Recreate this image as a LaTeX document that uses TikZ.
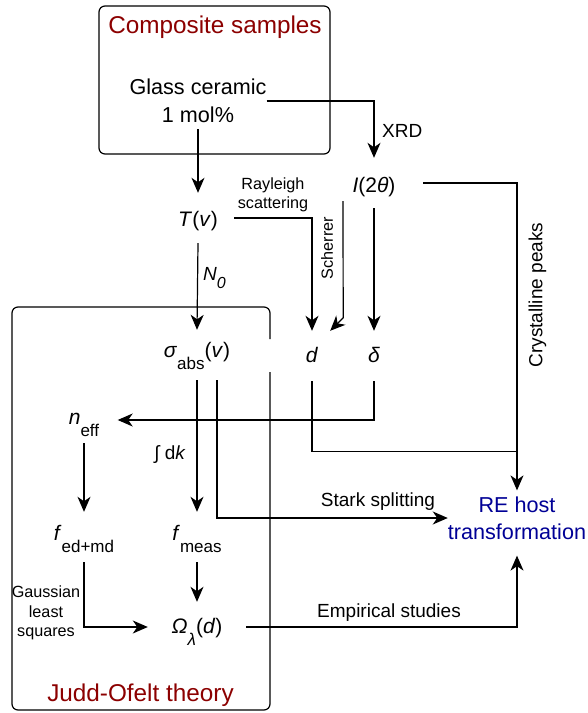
\documentclass[tikz,border=0pt]{standalone}
\usepackage{fontspec}
\setmainfont{Liberation Sans}
\usetikzlibrary{arrows.meta,calc}
\definecolor{dred}{RGB}{140,0,0}
\definecolor{dblue}{RGB}{0,0,150}
\newcommand\fT{\fontsize{24.3}{28}\selectfont}
\newcommand\fM{\fontsize{21.6}{28}\selectfont}
\newcommand\fR{\fontsize{21.6}{27}\selectfont}
\newcommand\fL{\fontsize{19}{23}\selectfont}
\newcommand\fS{\fontsize{16.2}{19.5}\selectfont}
\newcommand\mfont{\fontsize{21}{24}\selectfont}
\newcommand\sbx[1]{\raisebox{-12pt}[0pt][0pt]{\fontsize{17}{17}\selectfont #1}}
\tikzset{
  mnode/.style={inner sep=0pt, font=\mfont},
  lbl/.style={inner sep=0pt},
  ln/.style={line width=1.2pt},
  arr/.style={ln, -{Stealth[length=15pt,width=13pt,inset=4.5pt]}},
  box/.style={draw, line width=1.2pt, rounded corners=6pt, inner sep=0pt},
}
\begin{document}
\begin{tikzpicture}[x=1pt,y=-1pt]
\fill[white] (0,0) rectangle (588,713);
\useasboundingbox (0,0) rectangle (588,713);

% composite samples box
\node[box, minimum width=231pt, minimum height=148pt] (cs) at (214.5,80) {};
\node[anchor=base, font=\fT, text=dred, lbl] (cst) at (215,33) {Composite samples};
\node[align=center, font=\fM, lbl] (gc) at (198,101) {Glass ceramic\\1 mol\%};

% Judd-Ofelt box (with gap on right edge)
\draw[ln, rounded corners=6pt] (270,339) -- (270,307) -- (12,307) -- (12,710) -- (270,710) -- (270,372);
\node[anchor=base, font=\fT, text=dred, lbl] (jot) at (140.5,701) {Judd-Ofelt theory};

% quantities
\node[mnode, minimum width=72pt, minimum height=50pt, text height=18pt, text depth=2pt] (tv) at (198,218) {\textit{T}(\textit{v})};
\node[mnode, minimum width=98pt, minimum height=50pt, text height=20pt, text depth=2pt] (i2t) at (374,183) {\textit{I}(2\textit{θ})};
\node[mnode, minimum width=36pt, minimum height=50pt, text height=16pt, text depth=4pt] (d) at (312,356) {\textit{d}};
\node[mnode, minimum height=50pt, text height=16pt, text depth=4pt] (delta) at (374,356) {\textit{δ}};
\node[mnode, minimum height=50pt, text height=14pt, text depth=10pt] (sig) at (197,355) {\textit{σ}\sbx{abs}(\textit{v})};
\node[mnode, minimum width=67pt, minimum height=46pt, text height=14pt, text depth=6pt] (neff) at (84,420) {\textit{n}\sbx{eff}};
\node[mnode, minimum height=50pt, text height=14pt, text depth=8pt] (fed) at (84,537) {\textit{f}\sbx{ed+md}};
\node[mnode, minimum height=50pt, text height=14pt, text depth=8pt] (fmeas) at (197,537) {\textit{f}\sbx{meas}};
\node[mnode, minimum width=98pt, minimum height=50pt, text height=16pt, text depth=4pt] (om) at (197,627) {\textit{Ω}\sbx{\textit{λ}}(\textit{d})};
\node[align=center, font=\fR, text=dblue, lbl] (re) at (517,518) {RE host\\transformation};

% labels
\node[anchor=base west, font=\fL, lbl] (xrd) at (382,137) {XRD};
\node[align=center, font=\fS, lbl] (ray) at (273,195) {Rayleigh\\scattering};
\node[rotate=90, font=\fS, lbl] (sch) at (327,248) {Scherrer};
\node[rotate=90, font=\fL, lbl] (cry) at (537.5,295) {Crystalline peaks};
\node[anchor=base west, font=\fL, lbl] (n0) at (203,280) {\textit{N}\raisebox{-8pt}[0pt][0pt]{\fontsize{16}{16}\selectfont\textit{0}}};
\node[font=\fL, lbl] (intk) at (170,455) {∫ d\textit{k}};
\node[anchor=base, font=\fL, lbl] (stark) at (378,506) {Stark splitting};
\node[anchor=base, font=\fL, lbl] (emp) at (389,617) {Empirical studies};
\node[align=center, font=\fS, lbl] (gls) at (46,613) {Gaussian\\least\\squares};

% connectors
\draw[arr] ([yshift=-6pt]gc.south) -- (tv.north);
\draw[arr] (gc.east) -| (i2t.north);
\draw[arr] (tv.south) -- (sig.north);
\draw[arr] (tv.east) -| (d.north);
\draw[arr] ([xshift=-31pt,yshift=7pt]i2t.south) -- ([xshift=13pt,yshift=13pt]d.north east) -- (d.north east);
\draw[arr] (i2t.south) -- (delta.north);
\draw[arr] (i2t.east) -| ([yshift=6pt]re.north);
\draw[ln] (d.south) |- ($(re.north)+(0,-45)$);
\draw[arr] (delta.south) |- (neff.east);
\draw[arr] (sig.south) -- (fmeas.north);
\draw[arr] ([xshift=20pt]sig.south) |- (re.west);
\draw[arr] (neff.south) -- (fed.north);
\draw[arr] (fmeas.south) -- (om.north);
\draw[arr] (fed.south) |- (om.west);
\draw[arr] (om.east) -| ([yshift=-16pt]re.south);
\end{tikzpicture}
\end{document}
